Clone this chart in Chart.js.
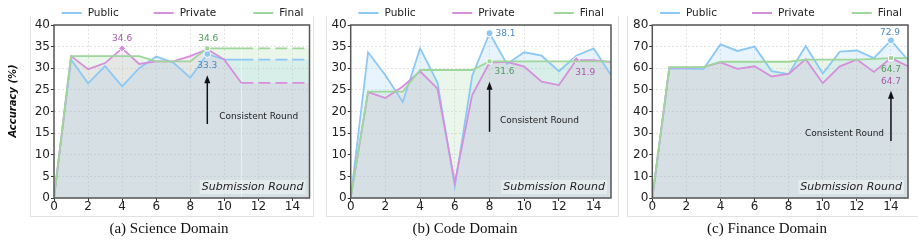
<!DOCTYPE html>
<html>
<head>
<meta charset="utf-8">
<script src="https://cdn.jsdelivr.net/npm/chart.js@4.4.1/dist/chart.umd.min.js"></script>
<style>
  body { margin: 0; width: 918px; height: 242px; position: relative; background: #fff; overflow: hidden; }
  .box { position: absolute; top: 16px; height: 200px; border: 1px solid #e2e2e2; border-top: none; }
  canvas { position: absolute; top: 0; }
  .cap { position: absolute; top: 218px; width: 240px; margin-left: -120px; text-align: center;
         font-family: 'Liberation Serif', serif; font-size: 15px; color: #111; line-height: 20px; }
</style>
</head>
<body>
<div class="box" style="left:30px;width:282px"></div>
<div class="box" style="left:326px;width:291px"></div>
<div class="box" style="left:627px;width:300px"></div>

<canvas id="science" width="313" height="242" style="left:0px"></canvas>
<canvas id="code" width="302" height="242" style="left:313px"></canvas>
<canvas id="finance" width="303" height="242" style="left:615px"></canvas>

<div class="cap" style="left:169px">(a) Science Domain</div>
<div class="cap" style="left:465px">(b) Code Domain</div>
<div class="cap" style="left:767px">(c) Finance Domain</div>

<script>
// ---- data ----
const rounds = [0, 1, 2, 3, 4, 5, 6, 7, 8, 9, 10, 11, 12, 13, 14, 15];
const seriesNames = ['Public', 'Private', 'Final'];

const sciPublic  = [0, 32.0, 26.5, 30.5, 25.8, 30.0, 32.7, 31.3, 27.8, 33.3, 32.0, 32.0, 32.0, 32.0, 32.0, 32.0];
const sciPrivate = [0, 32.8, 29.8, 31.2, 34.6, 31.0, 31.6, 31.6, 32.8, 34.4, 32.0, 26.6, 26.6, 26.6, 26.6, 26.6];
const sciFinal   = [0, 32.8, 32.8, 32.8, 32.8, 32.8, 31.6, 31.6, 31.6, 34.6, 34.6, 34.6, 34.6, 34.6, 34.6, 34.6];

const codePublic  = [0, 33.7, 28.4, 22.2, 34.6, 26.7, 2.7, 28.2, 38.1, 31.0, 33.7, 32.9, 29.3, 32.9, 34.6, 28.4];
const codePrivate = [0, 24.5, 23.1, 25.8, 29.3, 25.3, 3.6, 23.8, 31.3, 31.5, 30.4, 26.9, 26.1, 31.9, 31.9, 31.4];
const codeFinal   = [0, 24.6, 24.6, 24.6, 29.6, 29.6, 29.6, 29.6, 31.6, 31.6, 31.6, 31.6, 31.6, 31.6, 31.6, 31.6];

const finPublic  = [0, 60.0, 59.8, 59.6, 71.0, 68.0, 70.0, 58.7, 57.3, 70.3, 57.6, 67.7, 68.2, 64.7, 72.9, 63.8];
const finPrivate = [0, 60.3, 60.3, 60.5, 62.7, 59.7, 60.9, 56.2, 57.4, 64.2, 53.1, 60.9, 64.0, 58.3, 64.7, 60.9];
const finFinal   = [0, 60.5, 60.5, 60.5, 63.0, 63.0, 63.0, 63.0, 63.0, 64.0, 64.0, 64.0, 64.0, 64.3, 64.7, 64.7];

// ---- styling ----
const lineColors  = ['#8cc8f6', '#d68fdc', '#9fd69b'];
const fillColors  = ['rgba(140,200,246,0.2)', 'rgba(214,143,220,0.18)', 'rgba(159,214,155,0.22)'];
const labelColors = ['#4a88bf', '#a65aa9', '#4f9a5c'];
const markerStyles = ['circle', 'rectRot', 'rect'];
const drawOrder = [3, 2, 1];   // green painted last, as in the figure
const legendFrac = [0.03, 0.39, 0.78];

const panels = {
  science: {
    series: [sciPublic, sciPrivate, sciFinal], yMax: 40, yStep: 5,
    left: 54, right: 3.5, dashFrom: 11, yTitle: true,
    marks: [9, 4, 9],
    labelPos: [{ dx: 0, dy: 12, align: 'center' }, { dx: 0, dy: -10, align: 'center' }, { dx: 1, dy: -10, align: 'center' }],
    arrow: { x: 9, y0: 17.1, y1: 28.4 }, note: { x: 9.7, y: 18.7 }
  },
  code: {
    series: [codePublic, codePrivate, codeFinal], yMax: 40, yStep: 5,
    left: 37.7, right: 4, dashFrom: null, yTitle: false,
    marks: [8, 13, 8],
    labelPos: [{ dx: 6, dy: 0, align: 'left' }, { dx: -1, dy: 13, align: 'left' }, { dx: 5, dy: 10, align: 'left' }],
    arrow: { x: 8, y0: 15.3, y1: 26.9 }, note: { x: 8.6, y: 17.8 }
  },
  finance: {
    series: [finPublic, finPrivate, finFinal], yMax: 80, yStep: 10,
    left: 37.3, right: 10, dashFrom: null, yTitle: false,
    marks: [14, 14, 14],
    labelPos: [{ dx: -1, dy: -8, align: 'center' }, { dx: 0, dy: 24, align: 'center' }, { dx: 0, dy: 12, align: 'center' }],
    arrow: { x: 14, y0: 26.4, y1: 49.6 }, note: { x: 8.96, y: 29.9 }
  }
};

const decor = {
  id: 'decor',
  afterDatasetsDraw(chart) {
    const p = chart.options.plugins.decor.panel;
    const ctx = chart.ctx;
    const a = chart.chartArea;
    const xs = chart.scales.x, ys = chart.scales.y;
    ctx.save();

    // frame
    ctx.strokeStyle = '#555';
    ctx.lineWidth = 1.5;
    ctx.strokeRect(a.left, a.top, a.right - a.left, a.bottom - a.top);

    // value labels at marked points
    ctx.font = '9px "DejaVu Sans"';
    ctx.textBaseline = 'middle';
    p.series.forEach((vals, k) => {
      const pt = chart.getDatasetMeta(k).data[p.marks[k]];
      const lp = p.labelPos[k];
      ctx.fillStyle = labelColors[k];
      ctx.textAlign = lp.align;
      ctx.fillText(vals[p.marks[k]].toFixed(1), pt.x + lp.dx, pt.y + lp.dy);
    });

    // arrow
    const ax = xs.getPixelForValue(p.arrow.x);
    const ay0 = ys.getPixelForValue(p.arrow.y0);
    const ay1 = ys.getPixelForValue(p.arrow.y1);
    ctx.strokeStyle = '#111';
    ctx.fillStyle = '#111';
    ctx.lineWidth = 1.5;
    ctx.beginPath();
    ctx.moveTo(ax, ay0);
    ctx.lineTo(ax, ay1 + 6);
    ctx.stroke();
    ctx.beginPath();
    ctx.moveTo(ax, ay1);
    ctx.lineTo(ax - 3, ay1 + 8);
    ctx.lineTo(ax + 3, ay1 + 8);
    ctx.closePath();
    ctx.fill();

    ctx.font = '9px "DejaVu Sans"';
    ctx.fillStyle = '#222';
    ctx.textAlign = 'left';
    ctx.fillText('Consistent Round', xs.getPixelForValue(p.note.x), ys.getPixelForValue(p.note.y));

    // "Submission Round" tag
    ctx.font = 'italic 11px "DejaVu Sans"';
    const tw = ctx.measureText('Submission Round').width;
    ctx.fillStyle = 'rgba(255,255,255,0.35)';
    ctx.fillRect(a.right - 6 - tw - 2, a.bottom - 18, tw + 4, 14);
    ctx.fillStyle = '#222';
    ctx.textAlign = 'right';
    ctx.fillText('Submission Round', a.right - 6, a.bottom - 11);

    // legend
    ctx.font = '10.5px "DejaVu Sans"';
    ctx.textAlign = 'left';
    seriesNames.forEach((name, k) => {
      const lx = a.left + legendFrac[k] * (a.right - a.left);
      ctx.strokeStyle = lineColors[k];
      ctx.lineWidth = 2;
      ctx.beginPath();
      ctx.moveTo(lx, 13);
      ctx.lineTo(lx + 20, 13);
      ctx.stroke();
      ctx.fillStyle = '#222';
      ctx.fillText(name, lx + 26, 13);
    });

    // y axis title
    if (p.yTitle) {
      ctx.translate(13, 101);
      ctx.rotate(-Math.PI / 2);
      ctx.font = 'italic bold 10px "DejaVu Sans"';
      ctx.textAlign = 'center';
      ctx.fillStyle = '#111';
      ctx.fillText('Accuracy (%)', 0, 0);
    }
    ctx.restore();
  }
};

function makeChart(id) {
  const p = panels[id];
  const datasets = p.series.map((vals, k) => ({
    label: seriesNames[k],
    data: rounds.map((r, i) => ({ x: r, y: vals[i] })),
    order: drawOrder[k],
    borderColor: lineColors[k],
    backgroundColor: fillColors[k],
    borderWidth: 1.8,
    fill: 'origin',
    tension: 0,
    pointStyle: markerStyles[k],
    pointRadius: c => c.dataIndex === p.marks[k] ? 3.5 : 0,
    pointHoverRadius: 0,
    pointBackgroundColor: lineColors[k],
    pointBorderColor: '#fff',
    pointBorderWidth: 1,
    segment: {
      borderDash: c => (p.dashFrom !== null && c.p0.parsed.x >= p.dashFrom) ? [12, 5] : undefined
    }
  }));

  const tickFont = { family: 'DejaVu Sans', size: 12 };

  return new Chart(document.getElementById(id), {
    type: 'line',
    data: { datasets },
    plugins: [decor],
    options: {
      responsive: false,
      animation: false,
      layout: { padding: { top: 25, right: p.right, bottom: 0, left: 0 } },
      plugins: {
        legend: { display: false },
        tooltip: { enabled: false },
        filler: { drawTime: 'beforeDatasetsDraw' },
        decor: { panel: p }
      },
      scales: {
        x: {
          type: 'linear', min: 0, max: 15,
          afterFit: s => { s.height = 44; },
          afterBuildTicks: s => { s.ticks = s.ticks.filter(t => t.value % 2 === 0); },
          ticks: { stepSize: 1, font: tickFont, color: '#222', padding: -1, maxRotation: 0, autoSkip: false },
          grid: { color: '#dcdcdc', lineWidth: 0.8, tickColor: '#333', tickLength: 3, tickWidth: 1 },
          border: { display: false, dash: [2, 2] }
        },
        y: {
          min: 0, max: p.yMax,
          afterFit: s => { s.width = p.left; },
          ticks: { stepSize: p.yStep, font: tickFont, color: '#222', padding: 1 },
          grid: { color: '#dcdcdc', lineWidth: 0.8, tickColor: '#333', tickLength: 3, tickWidth: 1 },
          border: { display: false, dash: [2, 2] }
        }
      }
    }
  });
}

['science', 'code', 'finance'].forEach(makeChart);
</script>
</body>
</html>
